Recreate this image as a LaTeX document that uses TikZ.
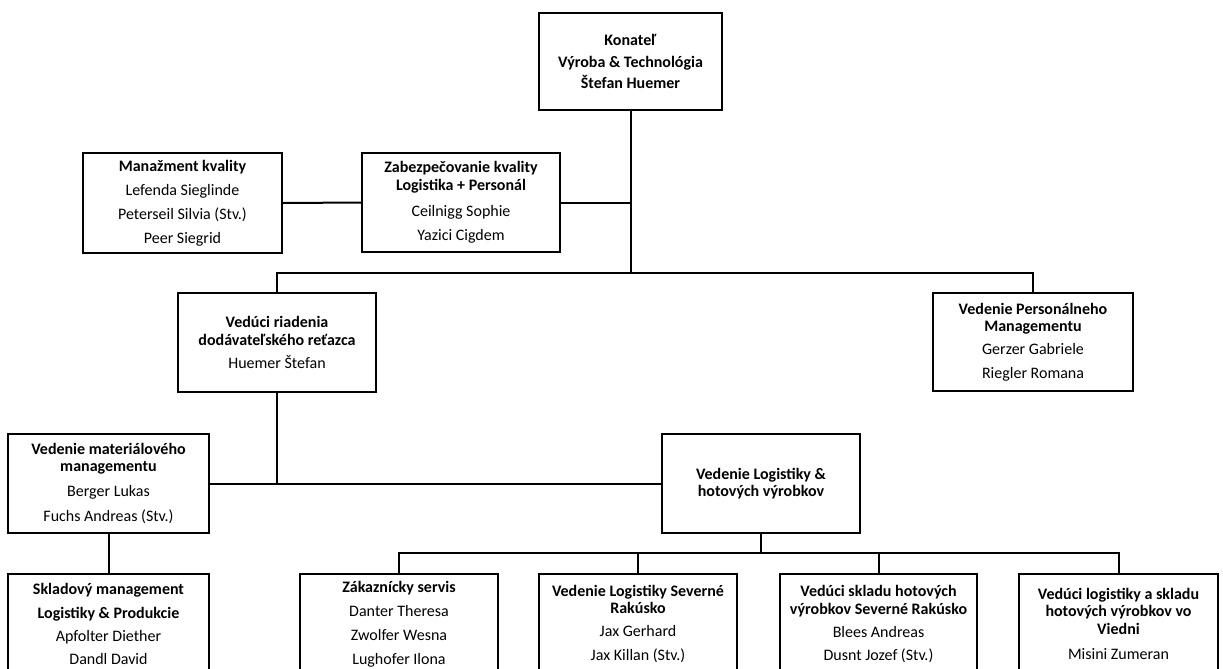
\documentclass[tikz,border=0pt]{standalone}
\usepackage{fontspec}
\setmainfont{Carlito}
\newcommand{\pbr}{\\[4.9pt]}
\newcommand{\pbs}{\\[3pt]}
\begin{document}
\begin{tikzpicture}[x=0.75pt,y=-0.75pt,
  box/.style={draw=black,line width=1.5pt,rectangle,inner sep=0pt,align=center,
    font=\fontsize{12}{13.1}\selectfont,fill=white},
  link/.style={draw=black,line width=1.5pt}]
\clip (0,0) rectangle (1223,668);
\fill[white] (0,0) rectangle (1223,668);
% boxes
\node[box,minimum width=183*0.75pt,minimum height=97*0.75pt] (top) at (630.5,61.5)
  {\textbf{Konateľ}\pbs\textbf{Výroba \& Technológia}\pbs\textbf{Štefan Huemer}};
\node[box,minimum width=199*0.75pt,minimum height=100*0.75pt] (qm) at (182.5,203)
  {\textbf{Manažment kvality}\pbr Lefenda Sieglinde\pbr Peterseil Silvia (Stv.)\pbr Peer Siegrid};
\node[box,minimum width=198*0.75pt,minimum height=99*0.75pt] (qa) at (461,202.5)
  {\textbf{Zabezpečovanie kvality}\\\textbf{Logistika + Personál}\\[7pt]Ceilnigg Sophie\pbr Yazici Cigdem};
\node[box,minimum width=198*0.75pt,minimum height=99*0.75pt] (scm) at (277,342.5)
  {\textbf{Vedúci riadenia}\\\textbf{dodávateľského reťazca}\\[4.2pt]Huemer Štefan};
\node[box,minimum width=200*0.75pt,minimum height=98*0.75pt] (hr) at (1033,342)
  {\textbf{Vedenie Personálneho}\\\textbf{Managementu}\\[4.2pt]Gerzer Gabriele\\[4.2pt]Riegler Romana};
\node[box,minimum width=201*0.75pt,minimum height=99*0.75pt] (mat) at (108.5,483.5)
  {\textbf{Vedenie materiálového}\\\textbf{managementu}\\[5.6pt]Berger Lukas\\[5.6pt]Fuchs Andreas (Stv.)};
\node[box,minimum width=198*0.75pt,minimum height=99*0.75pt] (log) at (761,483.5)
  {\textbf{Vedenie Logistiky \&}\\\textbf{hotových výrobkov}};
\node[box,minimum width=201*0.75pt,minimum height=100*0.75pt] (b1) at (108.5,624)
  {\textbf{Skladový management}\pbr\textbf{Logistiky \& Produkcie}\\[4pt]Apfolter Diether\\[4pt]Dandl David};
\node[box,minimum width=198*0.75pt,minimum height=100*0.75pt] (b2) at (399,624)
  {\textbf{Zákaznícky servis}\pbr Danter Theresa\pbr Zwolfer Wesna\pbr Lughofer Ilona};
\node[box,minimum width=198*0.75pt,minimum height=100*0.75pt] (b3) at (638,624)
  {\textbf{Vedenie Logistiky Severné}\\\textbf{Rakúsko}\\[4.2pt]Jax Gerhard\pbr Jax Killan (Stv.)};
\node[box,minimum width=197*0.75pt,minimum height=100*0.75pt] (b4) at (878.5,624)
  {\textbf{Vedúci skladu hotových}\\\textbf{výrobkov Severné Rakúsko}\\[4.2pt]Blees Andreas\\[4.2pt]Dusnt Jozef (Stv.)};
\node[box,minimum width=199*0.75pt,minimum height=100*0.75pt] (b5) at (1118.5,624)
  {\textbf{Vedúci logistiky a skladu}\\\textbf{hotových výrobkov vo}\\\textbf{Viedni}\\[6pt]Misini Zumeran};
% connectors
\coordinate (j1) at (630.5,273);
\draw[link] (top.south) -- (j1);
\draw[link] (qm.east) -- (qa.west);
\draw[link] (qa.east) -- (qa.east -| top.south);
\draw[link] (scm.north) |- (j1) -| (hr.north);
\draw[link] (scm.south) -- (scm.south |- mat.east);
\draw[link] (mat.east) -- (log.west);
\draw[link] (mat.south) -- (b1.north);
\coordinate (j2) at (761,553);
\draw[link] (log.south) -- (j2);
\draw[link] (b2.north) |- (j2) -| (b5.north);
\draw[link] (b3.north) -- (b3.north |- j2);
\draw[link] (b4.north) -- (b4.north |- j2);
\end{tikzpicture}
\end{document}
